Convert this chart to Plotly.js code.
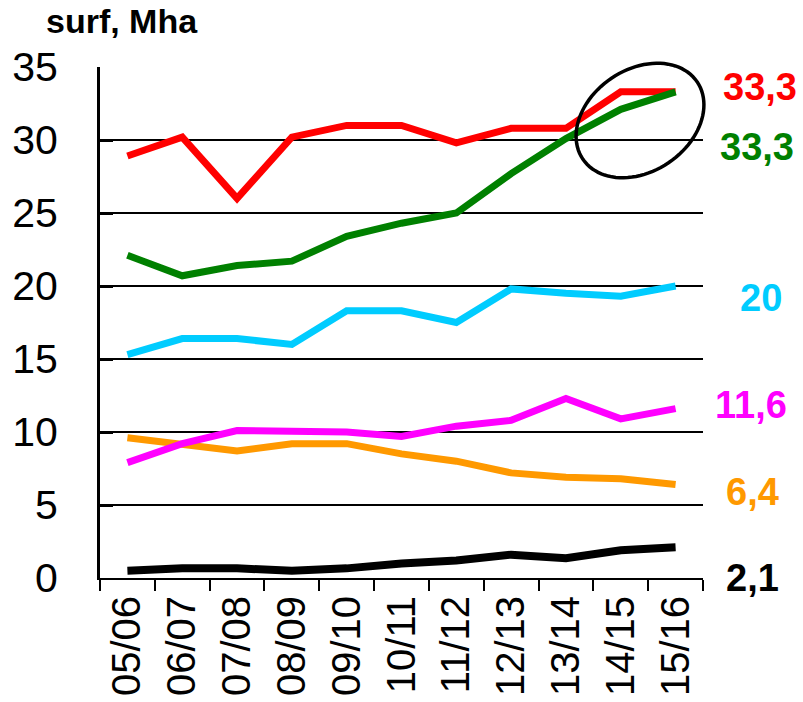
<!DOCTYPE html>
<html>
<head>
<meta charset="utf-8">
<script src="https://cdn.plot.ly/plotly-3.0.1.min.js"></script>
<style>html,body{margin:0;padding:0;background:#fff;}#chart{width:803px;height:702px;}</style>
</head>
<body>
<div id="chart"></div>
<script>
var seasons = ['05/06','06/07','07/08','08/09','09/10','10/11','11/12','12/13','13/14','14/15','15/16'];
var redSeries     = [28.9, 30.2, 26.0, 30.2, 31.0, 31.0, 29.8, 30.8, 30.8, 33.3, 33.3];
var greenSeries   = [22.1, 20.7, 21.4, 21.7, 23.4, 24.3, 25.0, 27.7, 30.1, 32.1, 33.3];
var cyanSeries    = [15.3, 16.4, 16.4, 16.0, 18.3, 18.3, 17.5, 19.8, 19.5, 19.3, 20.0];
var magentaSeries = [7.9, 9.2, 10.1, 10.1, 10.0, 9.7, 10.4, 10.8, 12.3, 10.9, 11.6];
var orangeSeries  = [9.6, 9.2, 8.7, 9.2, 9.2, 8.5, 8.0, 7.2, 6.9, 6.8, 6.4];
var blackSeries   = [0.5, 0.66, 0.66, 0.5, 0.66, 1.0, 1.2, 1.6, 1.35, 1.9, 2.1];
var yTicks = [0, 5, 10, 15, 20, 25, 30, 35];
var yTitle = 'surf, Mha';

var FONT = 'Liberation Sans, Arial, sans-serif';

var series = [
  {y: blackSeries,   color: '#000000', w: 8, lx: 752},
  {y: orangeSeries,  color: '#FF9900', w: 7, lx: 752},
  {y: magentaSeries, color: '#FF00FF', w: 7, lx: 751},
  {y: cyanSeries,    color: '#00CCFF', w: 7, lx: 761},
  {y: redSeries,     color: '#FF0000', w: 7, lx: 760},
  {y: greenSeries,   color: '#008000', w: 7, lx: 757}
];
// vertical label offsets (data units) to separate overlapping end labels
var labelShift = {'#FF0000': 0.3, '#008000': -3.8, '#00CCFF': -0.8, '#FF00FF': 0.25, '#FF9900': -0.5, '#000000': -2.1};

var traces = series.map(function(s){
  return {x: seasons, y: s.y, type: 'scatter', mode: 'lines',
          line: {color: s.color, width: s.w, shape: 'linear'},
          hoverinfo: 'skip', showlegend: false};
});

var L = 100, R = 100, T = 67, B = 124, W = 803, H = 702;
var pw = W - L - R, ph = H - T - B;

var annotations = series.map(function(s){
  var last = s.y[s.y.length - 1];
  var txt = String(last).replace('.', ',');
  return {xref: 'paper', yref: 'y', x: (s.lx - L) / pw, y: last + labelShift[s.color],
          xanchor: 'center', yanchor: 'middle', showarrow: false, text: '<b>' + txt + '</b>',
          font: {family: FONT, size: 38, color: s.color}};
});
annotations.push({xref: 'paper', yref: 'paper', x: (44 - L) / pw, y: (H - B - 21) / ph,
  xanchor: 'left', yanchor: 'middle', showarrow: false, text: '<b>' + yTitle + '</b>',
  font: {family: FONT, size: 34, color: '#000'}});

// highlight ellipse (annotation decoration)
function ellipsePath(cx, cy, a, b, deg){
  var th = deg * Math.PI / 180, pts = [];
  for (var i = 0; i <= 96; i++){
    var t = 2 * Math.PI * i / 96;
    var px = cx + a * Math.cos(t) * Math.cos(th) + b * Math.sin(t) * Math.sin(th);
    var py = cy - a * Math.cos(t) * Math.sin(th) + b * Math.sin(t) * Math.cos(th);
    pts.push(((px - L) / pw).toFixed(5) + ',' + ((H - B - py) / ph).toFixed(5));
  }
  return 'M' + pts.join(' L') + ' Z';
}

var layout = {
  width: W, height: H,
  margin: {l: L, r: R, t: T, b: B, pad: 0},
  paper_bgcolor: '#fff', plot_bgcolor: '#fff',
  font: {family: FONT, color: '#000'},
  xaxis: {type: 'category', range: [-0.5, 10.5], showgrid: false, zeroline: false,
          showline: true, linecolor: '#000', linewidth: 2, mirror: false,
          ticks: 'outside', tickson: 'boundaries', ticklen: 11, tickwidth: 2, tickcolor: '#000',
          tickangle: -90, tickfont: {family: FONT, size: 40, color: '#000'}},
  yaxis: {range: [0, 35], tickvals: yTicks, ticktext: yTicks.map(String),
          showgrid: true, gridcolor: '#000', gridwidth: 2, zeroline: false,
          showline: true, linecolor: '#000', linewidth: 3,
          ticks: 'inside', ticklen: 13, tickwidth: 3, tickcolor: '#000',
          ticklabelstandoff: 31,
          tickfont: {family: FONT, size: 41, color: '#000'}},
  annotations: annotations,
  shapes: [{type: 'path', xref: 'paper', yref: 'paper', path: ellipsePath(640, 120.5, 69, 51, 34),
            line: {color: '#000', width: 3.5}, fillcolor: 'rgba(0,0,0,0)'}]
};

Plotly.newPlot('chart', traces, layout, {staticPlot: true, displayModeBar: false});
</script>
</body>
</html>
